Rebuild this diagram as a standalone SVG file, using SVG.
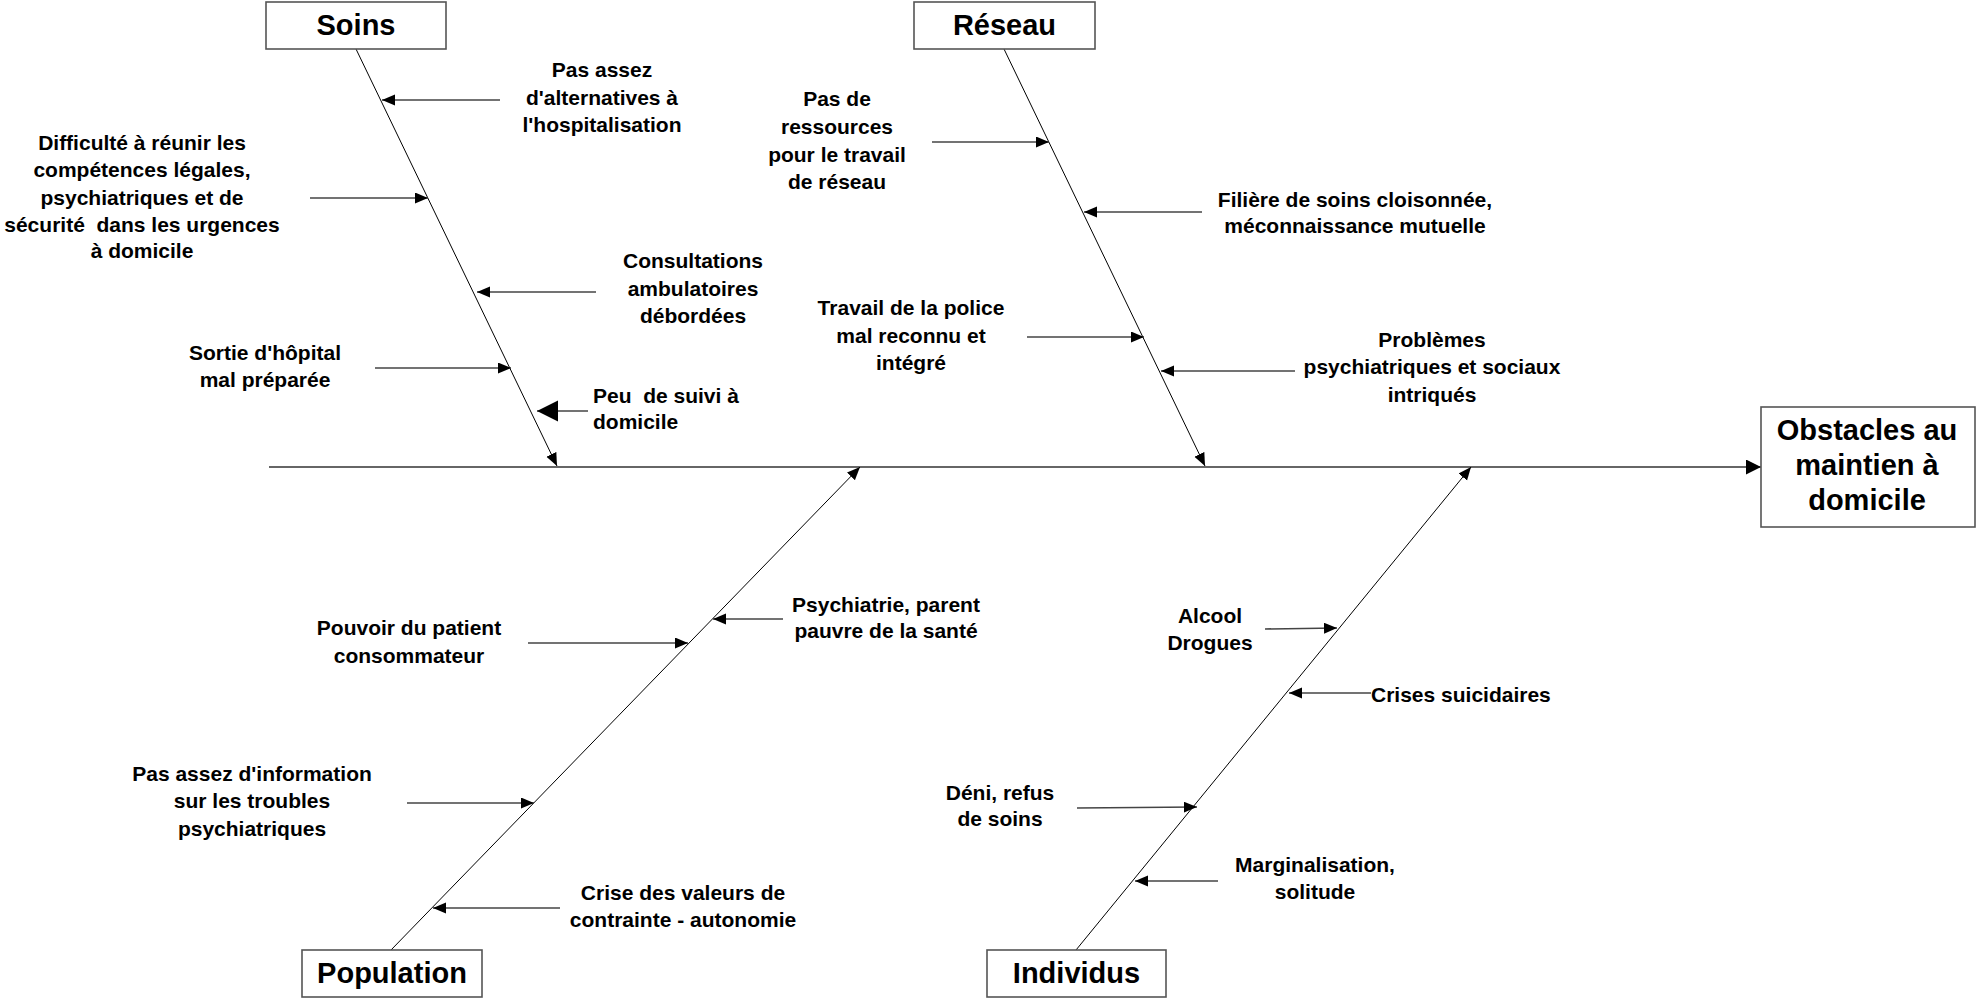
<svg xmlns="http://www.w3.org/2000/svg" width="1977" height="998" viewBox="0 0 1977 998">
<style>
text{font-family:"Liberation Sans",Arial,sans-serif;font-weight:bold;fill:#000;white-space:pre}
.lbl{font-size:21px;text-anchor:middle}
.lft{font-size:21px;text-anchor:start}
.hd{font-size:29px;text-anchor:middle}
.box{fill:#fff;stroke:#555;stroke-width:1.6}
.bone{stroke:#000;stroke-width:1;fill:none}
.spine{stroke:#666;stroke-width:2.2;fill:none}
.sub{stroke:#444;stroke-width:1.6;fill:none}
</style>
<defs>
<marker id="ah" markerUnits="userSpaceOnUse" markerWidth="14" markerHeight="12" refX="13" refY="5.5" orient="auto"><path d="M0,0 L13,5.5 L0,11 z" fill="#000"/></marker>
<marker id="ahb" markerUnits="userSpaceOnUse" markerWidth="22" markerHeight="22" refX="21" refY="10.5" orient="auto"><path d="M0,0 L21,10.5 L0,21 z" fill="#000"/></marker>
<marker id="ahs" markerUnits="userSpaceOnUse" markerWidth="16" markerHeight="16" refX="15" refY="7.5" orient="auto"><path d="M0,0 L15,7.5 L0,15 z" fill="#000"/></marker>
</defs>
<g id="connectors">
<line class="spine" x1="269" y1="467" x2="1761" y2="467" marker-end="url(#ahs)"/>
<line class="bone" x1="356" y1="49" x2="557" y2="466" marker-end="url(#ah)"/>
<line class="bone" x1="1004" y1="49" x2="1205" y2="466" marker-end="url(#ah)"/>
<line class="bone" x1="391" y1="950" x2="860" y2="467" marker-end="url(#ah)"/>
<line class="bone" x1="1076" y1="950" x2="1471" y2="467" marker-end="url(#ah)"/>
<line class="sub" x1="500" y1="100" x2="382" y2="100" marker-end="url(#ah)"/>
<line class="sub" x1="310" y1="198" x2="428" y2="198" marker-end="url(#ah)"/>
<line class="sub" x1="596" y1="292" x2="477" y2="292" marker-end="url(#ah)"/>
<line class="sub" x1="375" y1="368" x2="511" y2="368" marker-end="url(#ah)"/>
<line class="sub" x1="588" y1="411" x2="537" y2="411" marker-end="url(#ahb)"/>
<line class="sub" x1="932" y1="142" x2="1049" y2="142" marker-end="url(#ah)"/>
<line class="sub" x1="1202" y1="212" x2="1084" y2="212" marker-end="url(#ah)"/>
<line class="sub" x1="1027" y1="337" x2="1144" y2="337" marker-end="url(#ah)"/>
<line class="sub" x1="1295" y1="371" x2="1161" y2="371" marker-end="url(#ah)"/>
<line class="sub" x1="528" y1="643" x2="688" y2="643" marker-end="url(#ah)"/>
<line class="sub" x1="783" y1="619" x2="713" y2="619" marker-end="url(#ah)"/>
<line class="sub" x1="407" y1="803" x2="534" y2="803" marker-end="url(#ah)"/>
<line class="sub" x1="560" y1="908" x2="433" y2="908" marker-end="url(#ah)"/>
<line class="sub" x1="1265" y1="629" x2="1337" y2="628" marker-end="url(#ah)"/>
<line class="sub" x1="1371" y1="693" x2="1289" y2="693" marker-end="url(#ah)"/>
<line class="sub" x1="1077" y1="808" x2="1197" y2="807" marker-end="url(#ah)"/>
<line class="sub" x1="1218" y1="881" x2="1135" y2="881" marker-end="url(#ah)"/>
</g>
<g id="soins"><rect class="box" x="266" y="2" width="180" height="47"/><text class="hd" x="356" y="35">Soins</text></g>
<g id="reseau"><rect class="box" x="914" y="2" width="181" height="47"/><text class="hd" x="1004.5" y="35">Réseau</text></g>
<g id="population"><rect class="box" x="302" y="950" width="180" height="47"/><text class="hd" x="392" y="983">Population</text></g>
<g id="individus"><rect class="box" x="987" y="950" width="179" height="47"/><text class="hd" x="1076.5" y="983">Individus</text></g>
<g id="obstacles"><rect class="box" x="1761" y="407" width="214" height="120"/><text class="hd" x="1867" y="440">Obstacles au</text><text class="hd" x="1867" y="475">maintien à</text><text class="hd" x="1867" y="510">domicile</text></g>
<g id="c1"><text class="lbl" x="602" y="77">Pas assez</text><text class="lbl" x="602" y="104.5">d'alternatives à</text><text class="lbl" x="602" y="132">l'hospitalisation</text></g>
<g id="c2"><text class="lbl" x="142" y="150">Difficulté à réunir les</text><text class="lbl" x="142" y="177">compétences légales,</text><text class="lbl" x="142" y="205">psychiatriques et de</text><text class="lbl" x="142" y="232">sécurité  dans les urgences</text><text class="lbl" x="142" y="258">à domicile</text></g>
<g id="c3"><text class="lbl" x="693" y="268">Consultations</text><text class="lbl" x="693" y="296">ambulatoires</text><text class="lbl" x="693" y="323">débordées</text></g>
<g id="c4"><text class="lbl" x="265" y="360">Sortie d'hôpital</text><text class="lbl" x="265" y="387">mal préparée</text></g>
<g id="c5"><text class="lft" x="593" y="403">Peu  de suivi à</text><text class="lft" x="593" y="429">domicile</text></g>
<g id="c6"><text class="lbl" x="837" y="106">Pas de</text><text class="lbl" x="837" y="134">ressources</text><text class="lbl" x="837" y="162">pour le travail</text><text class="lbl" x="837" y="189">de réseau</text></g>
<g id="c7"><text class="lbl" x="1355" y="207">Filière de soins cloisonnée,</text><text class="lbl" x="1355" y="233">méconnaissance mutuelle</text></g>
<g id="c8"><text class="lbl" x="911" y="315">Travail de la police</text><text class="lbl" x="911" y="343">mal reconnu et</text><text class="lbl" x="911" y="370">intégré</text></g>
<g id="c9"><text class="lbl" x="1432" y="347">Problèmes</text><text class="lbl" x="1432" y="374">psychiatriques et sociaux</text><text class="lbl" x="1432" y="402">intriqués</text></g>
<g id="c10"><text class="lbl" x="409" y="635">Pouvoir du patient</text><text class="lbl" x="409" y="663">consommateur</text></g>
<g id="c11"><text class="lbl" x="886" y="612">Psychiatrie, parent</text><text class="lbl" x="886" y="638">pauvre de la santé</text></g>
<g id="c12"><text class="lbl" x="252" y="781">Pas assez d'information</text><text class="lbl" x="252" y="808">sur les troubles</text><text class="lbl" x="252" y="836">psychiatriques</text></g>
<g id="c13"><text class="lbl" x="683" y="900">Crise des valeurs de</text><text class="lbl" x="683" y="927">contrainte - autonomie</text></g>
<g id="c14"><text class="lbl" x="1210" y="623">Alcool</text><text class="lbl" x="1210" y="650">Drogues</text></g>
<g id="c15"><text class="lft" x="1371" y="702">Crises suicidaires</text></g>
<g id="c16"><text class="lbl" x="1000" y="800">Déni, refus</text><text class="lbl" x="1000" y="826">de soins</text></g>
<g id="c17"><text class="lbl" x="1315" y="872">Marginalisation,</text><text class="lbl" x="1315" y="899">solitude</text></g>
</svg>
